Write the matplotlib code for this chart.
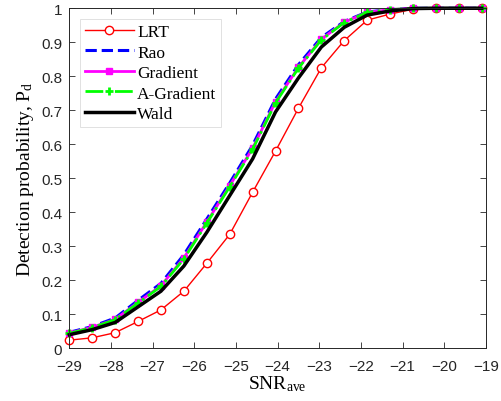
import matplotlib
matplotlib.use('Agg')
import matplotlib.pyplot as plt

plt.rcParams['mathtext.fontset'] = 'custom'
plt.rcParams['mathtext.rm'] = 'Liberation Serif'
plt.rcParams['mathtext.it'] = 'Liberation Serif:italic'

# SNR grid (-29:0.55:-19 in the original)
snr = [-29.0, -28.45, -27.9, -27.35, -26.8, -26.25, -25.7, -25.15, -24.6, -24.05,
       -23.5, -22.95, -22.4, -21.85, -21.3, -20.75, -20.2, -19.65, -19.1]

pd_lrt = [0.024, 0.031, 0.046, 0.079, 0.113, 0.168, 0.250, 0.335, 0.459, 0.580,
          0.706, 0.825, 0.905, 0.965, 0.983, 0.997, 1.0, 1.0, 1.0]
pd_rao = [0.047, 0.064, 0.089, 0.141, 0.191, 0.275, 0.380, 0.486, 0.597, 0.733,
          0.834, 0.914, 0.961, 0.989, 0.996, 1.0, 1.0, 1.0, 1.0]
pd_grad = [0.045, 0.062, 0.085, 0.135, 0.184, 0.266, 0.371, 0.478, 0.588, 0.725,
           0.826, 0.909, 0.959, 0.988, 0.996, 1.0, 1.0, 1.0, 1.0]
pd_agrad = [0.044, 0.061, 0.084, 0.133, 0.182, 0.263, 0.368, 0.475, 0.585, 0.722,
            0.824, 0.907, 0.958, 0.988, 0.996, 1.0, 1.0, 1.0, 1.0]
pd_wald = [0.040, 0.055, 0.076, 0.122, 0.168, 0.242, 0.341, 0.449, 0.557, 0.695,
           0.795, 0.886, 0.944, 0.980, 0.992, 0.999, 1.0, 1.0, 1.0]

xticks = list(range(-29, -18))
yticks = [0, 0.1, 0.2, 0.3, 0.4, 0.5, 0.6, 0.7, 0.8, 0.9, 1]
ytick_labels = ['0', '0.1', '0.2', '0.3', '0.4', '0.5', '0.6', '0.7', '0.8', '0.9', '1']

fig = plt.figure(figsize=(5.02, 4.02), dpi=100)
ax = fig.add_axes([0.138, 0.131, 0.830, 0.846])

ax.plot(snr, pd_lrt, 'o-', color='red', lw=1, ms=6, mfc='white', mec='red', mew=1,
        label='LRT', clip_on=False)
ax.plot(snr, pd_rao, '--', color='blue', lw=2.2, label='Rao', clip_on=False)
ax.plot(snr, pd_grad, 's-', color='magenta', lw=2, ms=5, label='Gradient', clip_on=False)
ax.plot(snr, pd_agrad, '-.', color='#00ff00', lw=2, marker='+', ms=6, mew=2,
        label='A-Gradient', clip_on=False)
ax.plot(snr, pd_wald, '-', color='black', lw=2.5, label='Wald', clip_on=False)

ax.set_xlim(-29, -19)
ax.set_ylim(0, 1)
ax.set_xticks(xticks)
ax.set_yticks(yticks)
ax.set_yticklabels(ytick_labels)
for lab in ax.get_xticklabels() + ax.get_yticklabels():
    lab.set_family('Liberation Sans')
    lab.set_fontsize(11)
    lab.set_color('#262626')
ax.tick_params(direction='in', top=True, right=True, length=4, width=0.6, color='#262626')
ax.tick_params(axis='x', pad=8)
ax.tick_params(axis='y', pad=5)
for s in ax.spines.values():
    s.set_color('#262626')
    s.set_linewidth(0.7)

ax.set_xlabel(r'SNR$_{\mathregular{ave}}$', family='Liberation Serif', fontsize=14, labelpad=0)
ax.set_ylabel(r'Detection probability, P$_{\mathregular{d}}$', family='Liberation Serif',
              fontsize=14, labelpad=4)

leg = ax.legend(loc='upper left', prop={'family': 'Liberation Serif', 'size': 12.5},
                frameon=True, fancybox=False, edgecolor='#d9d9d9', borderpad=0.3,
                handlelength=2.8, handletextpad=0.2, labelspacing=0.25,
                borderaxespad=0.6)
leg.get_frame().set_linewidth(0.7)

fig.savefig('out.png', dpi=100)
